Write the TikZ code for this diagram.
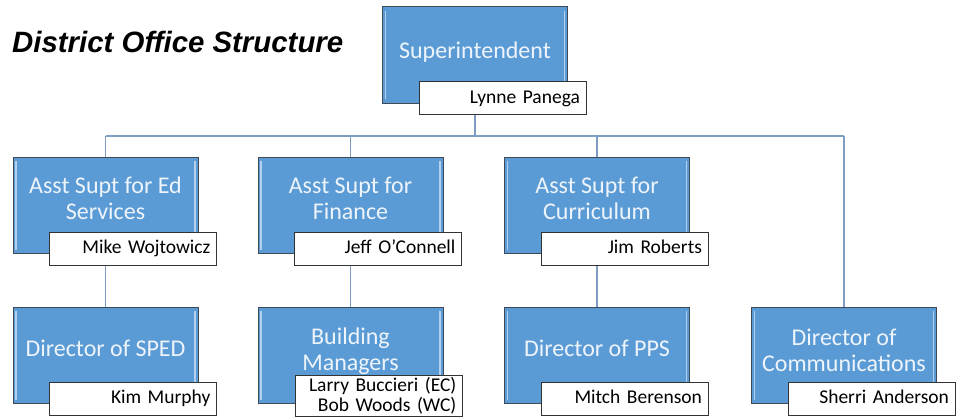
\documentclass[tikz,border=0pt]{standalone}
\usepackage{fontspec}
\setmainfont{Carlito}
\newfontfamily\titlefont{Liberation Sans}
\usetikzlibrary{calc}
\definecolor{boxblue}{HTML}{5B9BD5}
\definecolor{boxborder}{HTML}{3F4A56}
\definecolor{bevelc}{HTML}{B4D0EE}
\definecolor{conncol}{HTML}{7F9CC2}
\definecolor{boxtextc}{HTML}{EEF4FB}
\definecolor{nameborder}{HTML}{333333}
\begin{document}
\begin{tikzpicture}[x=1pt,y=-1pt,
  bluebox/.style={draw=boxborder, line width=1pt, fill=boxblue,
    minimum width=185pt, minimum height=96.5pt, inner sep=0pt,
    path picture={
      \draw[bevelc, line width=1.5pt]
        ([xshift=3pt,yshift=-4pt]path picture bounding box.north west) --
        ([xshift=3pt,yshift=4pt]path picture bounding box.south west);
      \draw[bevelc, line width=1.5pt]
        ([xshift=-3pt,yshift=-4pt]path picture bounding box.north east) --
        ([xshift=-3pt,yshift=4pt]path picture bounding box.south east);
    }},
  boxtext/.style={text=boxtextc, font=\fontsize{24}{26}\selectfont,
    align=center, inner sep=0pt},
  namebox/.style={draw=nameborder, line width=0.8pt, fill=white,
    minimum width=167pt, minimum height=33pt, inner xsep=6pt, inner ysep=0pt,
    text width=155pt, align=right, text height=14pt, text depth=4pt,
    font=\fontsize{19.5}{21}\selectfont, anchor=north west},
  nameboxtwo/.style={draw=nameborder, line width=0.8pt, fill=white,
    minimum width=167pt, inner xsep=6pt, inner ysep=2pt,
    text width=155pt, align=right,
    font=\fontsize{19.5}{20}\selectfont, anchor=north west},
  conn/.style={draw=conncol, line width=1.1pt},
  titlestyle/.style={font=\titlefont\bfseries\itshape\fontsize{29.4}{34}\selectfont,
    inner sep=0pt, anchor=base west}
]
\clip (0,0) rectangle (963,417);

% title
\node[titlestyle] (title) at (12,53) {District Office Structure};

% level 1
\node[bluebox] (sup) at (475,55) {};
\node[boxtext] (supt) at (475,52) {Superintendent};
\node[namebox] (supn) at ([xshift=36.5pt,yshift=22.5pt]sup.south west) {Lynne Panega};

% level 2
\node[bluebox] (ed) at (105.5,205.5) {};
\node[boxtext] (edt) at (105.5,198) {Asst Supt for Ed\\Services};
\node[namebox] (edn) at ([xshift=36.5pt,yshift=22.5pt]ed.south west) {Mike Wojtowicz};

\node[bluebox] (fin) at (350.5,205.5) {};
\node[boxtext] (fint) at (350.5,198) {Asst Supt for\\Finance};
\node[namebox] (finn) at ([xshift=36.5pt,yshift=22.5pt]fin.south west) {Jeff O’Connell};

\node[bluebox] (cur) at (597,205.5) {};
\node[boxtext] (curt) at (597,198) {Asst Supt for\\Curriculum};
\node[namebox] (curn) at ([xshift=36.5pt,yshift=22.5pt]cur.south west) {Jim Roberts};

% level 3
\node[bluebox] (sped) at (105.5,355.5) {};
\node[boxtext] (spedt) at (105.5,348) {Director of SPED};
\node[namebox] (spedn) at ([xshift=36.5pt,yshift=22.5pt]sped.south west) {Kim Murphy};

\node[bluebox] (bm) at (350.5,355.5) {};
\node[boxtext] (bmt) at (350.5,351) {Building\\Managers};
\node[nameboxtwo] (bmn) at ([xshift=37.5pt,yshift=29pt]bm.south west) {Larry Buccieri (EC)\\Bob Woods (WC)};

\node[bluebox] (pps) at (597,355.5) {};
\node[boxtext] (ppst) at (597,348) {Director of PPS};
\node[namebox] (ppsn) at ([xshift=36.5pt,yshift=22.5pt]pps.south west) {Mitch Berenson};

\node[bluebox] (com) at (844,355.5) {};
\node[boxtext] (comt) at (844,350) {Director of\\Communications};
\node[namebox] (comn) at ([xshift=36.5pt,yshift=22.5pt]com.south west) {Sherri Anderson};

% connectors
\coordinate (busl) at (105.5,136);
\coordinate (busr) at (844,136);
\draw[conn] (sup.center |- supn.south) -- (sup.center |- busl);
\draw[conn] (busl) -- (busr);
\draw[conn] (busl) -- (ed.north);
\draw[conn] (fin.north |- busl) -- (fin.north);
\draw[conn] (cur.north |- busl) -- (cur.north);
\draw[conn] (busr) -- (com.north);
\draw[conn] (ed.center |- edn.south) -- (sped.north);
\draw[conn] (fin.center |- finn.south) -- (bm.north);
\draw[conn] (cur.center |- curn.south) -- (pps.north);
\end{tikzpicture}
\end{document}
